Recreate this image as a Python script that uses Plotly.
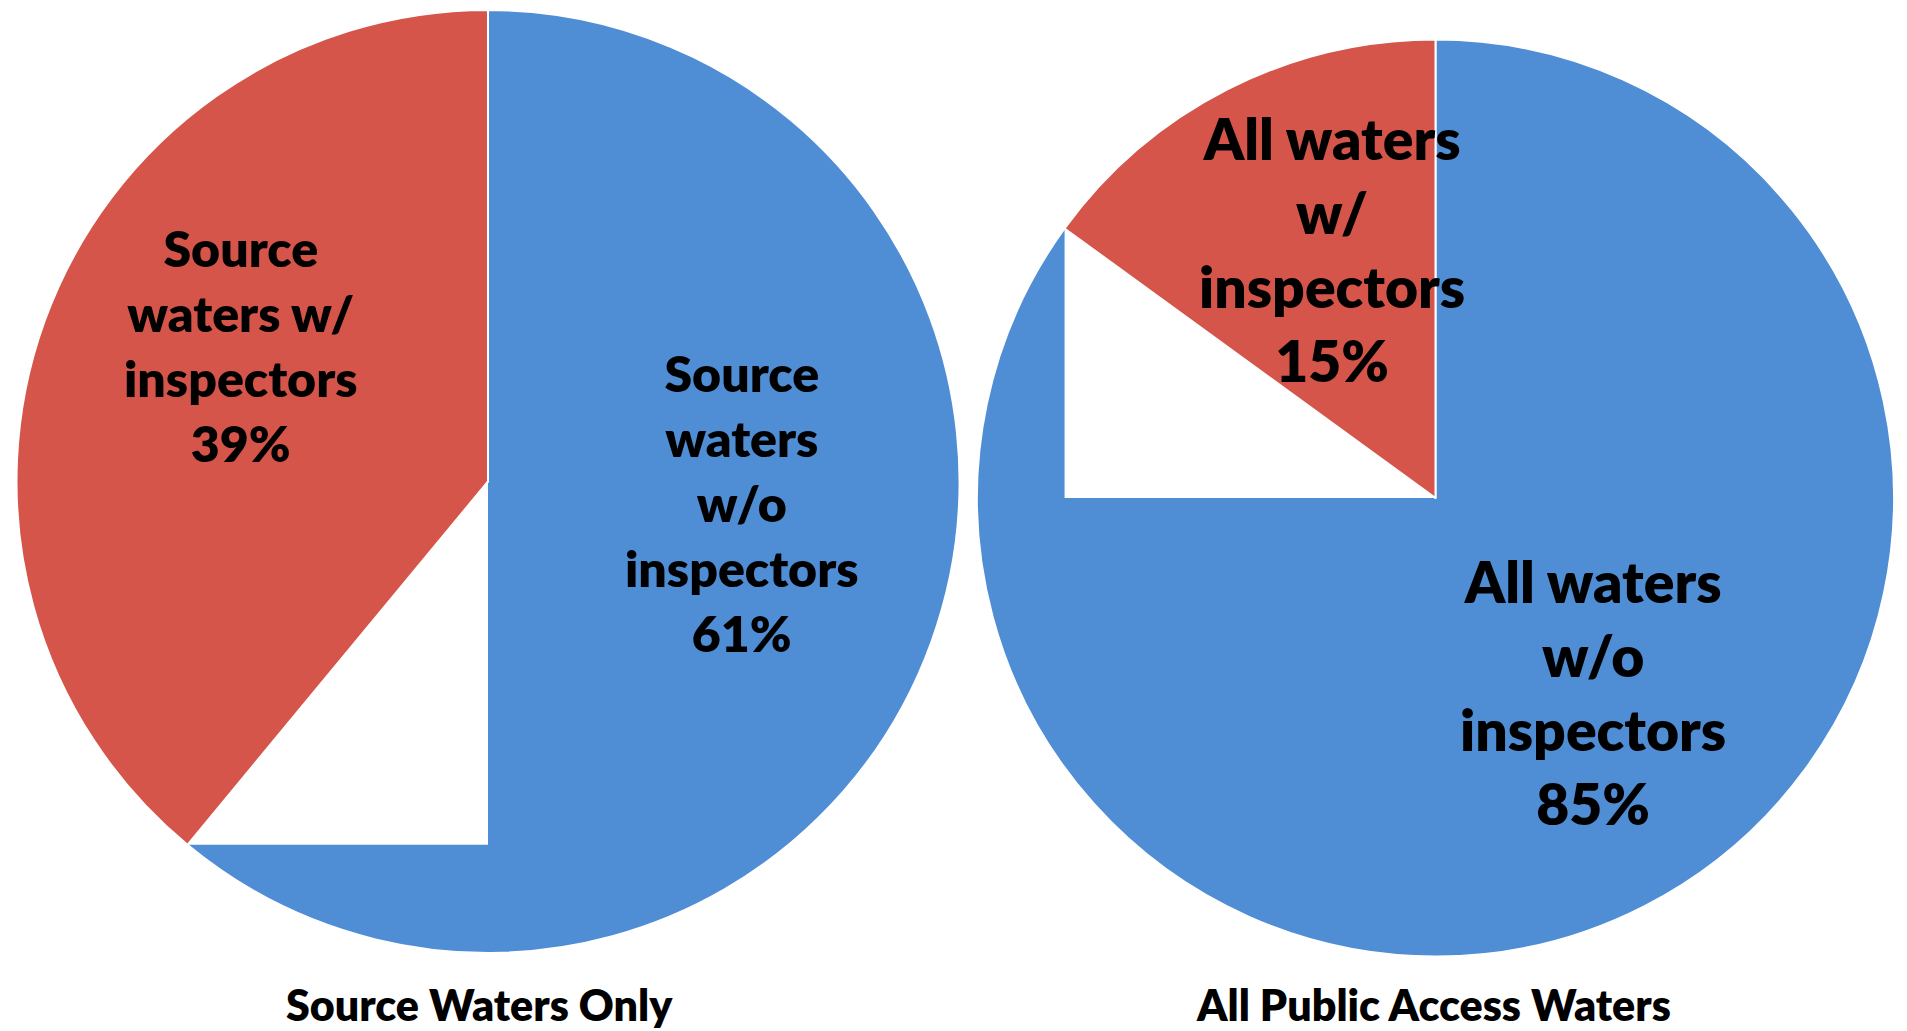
import math
import plotly.graph_objects as go

# ---------------- data ----------------
left_categories = ["Source waters w/o inspectors", "Source waters w/ inspectors"]
left_values = [61, 39]
left_label_lines = ["Source<br>waters<br>w/o<br>inspectors", "Source<br>waters w/<br>inspectors"]
left_title = "Source Waters Only"

right_categories = ["All waters w/o inspectors", "All waters w/ inspectors"]
right_values = [85, 15]
right_label_lines = ["All waters<br>w/o<br>inspectors", "All waters<br>w/<br>inspectors"]
right_title = "All Public Access Waters"

colors = ["#4f8dd5", "#d6554a"]

# ---------------- layout geometry (pixels) ----------------
W, H = 1907, 1031
FONT = "Lato, 'Open Sans', sans-serif"
WEIGHT = 800

pies = [
    dict(cats=left_categories, vals=left_values, lines=left_label_lines, title=left_title,
         box=(13, 10, 963, 953), label_pos=[(742, 503), (241, 345)], label_size=50,
         title_pos=(480, 1004)),
    dict(cats=right_categories, vals=right_values, lines=right_label_lines, title=right_title,
         box=(977, 35, 1894, 961), label_pos=[(1593, 692), (1332, 249)], label_size=57,
         title_pos=(1433, 1004)),
]


def px(x, y):
    return x / W, 1 - y / H


fig = go.Figure()
shapes = []
annotations = []

for p in pies:
    x0, y0, x1, y1 = p["box"]
    fig.add_trace(go.Pie(
        labels=p["cats"], values=p["vals"], sort=False, direction="clockwise", rotation=0,
        marker=dict(colors=colors, line=dict(color="white", width=2)),
        textinfo="none", showlegend=False, hoverinfo="label+percent",
        domain=dict(x=[x0 / W, x1 / W], y=[1 - y1 / H, 1 - y0 / H]),
    ))

    # white notch drawn beside the second slice (as in the original rendering)
    cx, cy = (x0 + x1) / 2, (y0 + y1) / 2
    r = min(x1 - x0, y1 - y0) / 2
    frac = p["vals"][0] / sum(p["vals"])
    theta = 2 * math.pi * frac
    bx, by = cx + r * math.sin(theta), cy - r * math.cos(theta)
    deg = math.degrees(theta) % 360
    nearest = min([0, 90, 180, 270, 360], key=lambda a: abs(a - deg)) % 180
    if nearest == 0:
        tx, ty = cx, by
    else:
        tx, ty = bx, cy
    pts = [px(cx, cy), px(bx, by), px(tx, ty)]
    path = "M {} {} L {} {} L {} {} Z".format(*[c for pt in pts for c in pt])
    shapes.append(dict(type="path", path=path, xref="paper", yref="paper",
                       fillcolor="white", line=dict(width=0), layer="above"))

    # slice labels
    for lines, val, (lx, ly) in zip(p["lines"], p["vals"], p["label_pos"]):
        ax, ay = px(lx, ly)
        annotations.append(dict(
            text=f"{lines}<br>{val}%", x=ax, y=ay, xref="paper", yref="paper",
            xanchor="center", yanchor="middle", showarrow=False, align="center",
            font=dict(family=FONT, size=p["label_size"], color="black", weight=WEIGHT),
        ))

    # title under pie
    tx_, ty_ = px(*p["title_pos"])
    annotations.append(dict(
        text=p["title"], x=tx_, y=ty_, xref="paper", yref="paper",
        xanchor="center", yanchor="middle", showarrow=False,
        font=dict(family=FONT, size=43, color="black", weight=WEIGHT),
    ))

fig.update_layout(
    width=W, height=H, margin=dict(l=0, r=0, t=0, b=0),
    paper_bgcolor="white", plot_bgcolor="white",
    shapes=shapes, annotations=annotations,
)

fig.write_html(
    "out.html",
    config={"displayModeBar": False},
    post_script="document.body.style.margin='0';document.body.style.overflow='hidden';",
)
